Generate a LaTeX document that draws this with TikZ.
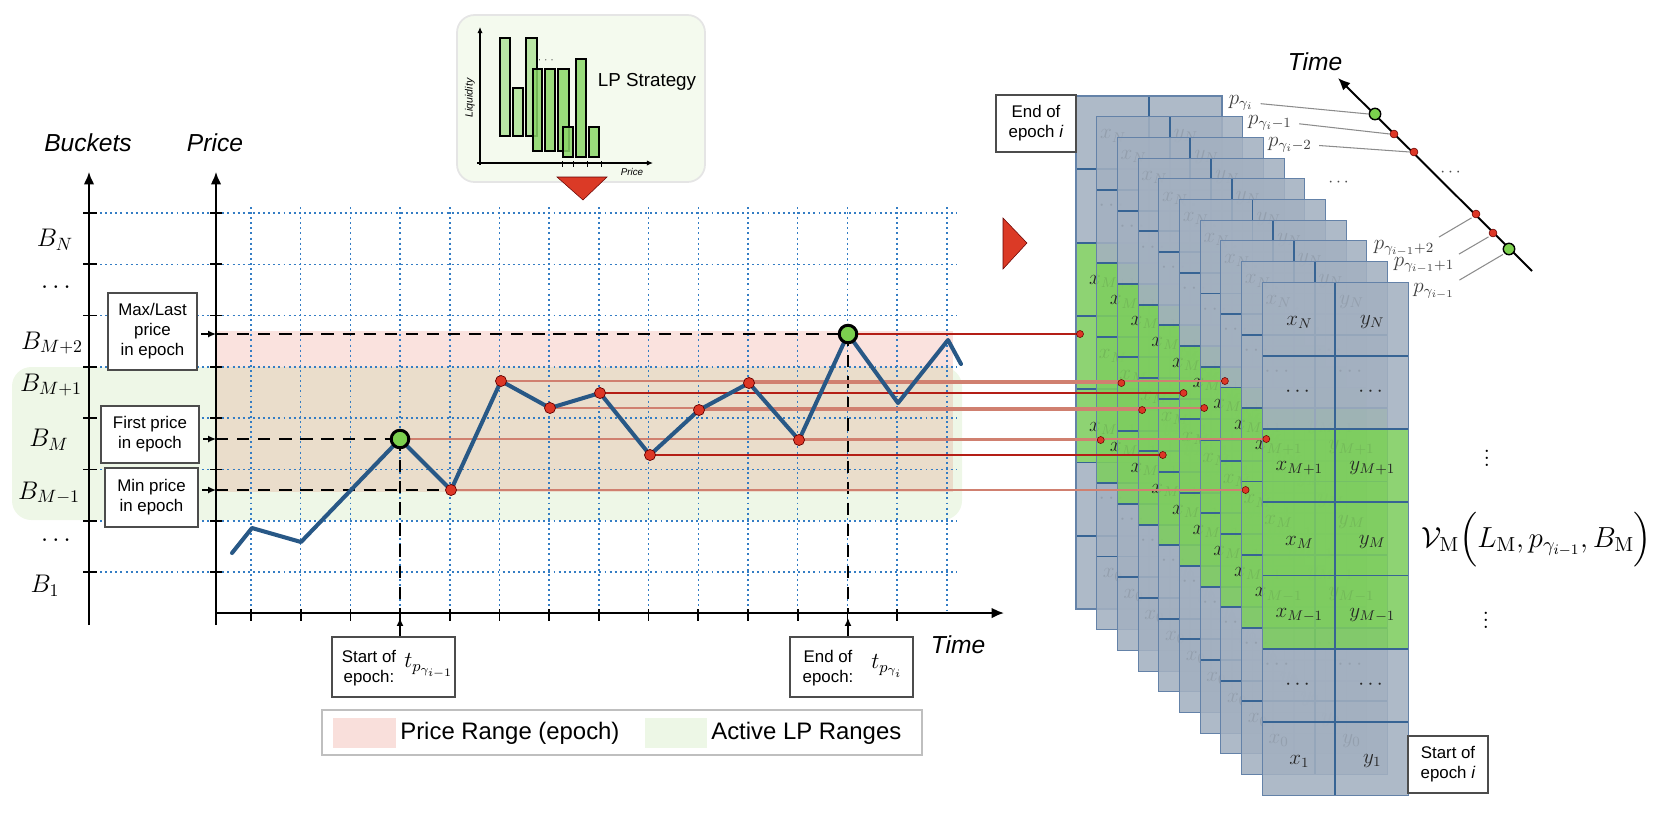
\RequirePackage{fix-cm}
\documentclass[tikz,border=0pt]{standalone}
\usepackage{amsmath}
\usepackage[no-math]{fontspec}
\newfontfamily\arial{Liberation Sans}
\usetikzlibrary{arrows.meta}

\definecolor{gridblue}{RGB}{52,125,196}
\definecolor{curveblue}{RGB}{40,88,134}
\definecolor{pinkband}{RGB}{250,226,222}
\definecolor{tanband}{RGB}{234,221,203}
\definecolor{greenband}{RGB}{238,247,231}
\definecolor{dotred}{RGB}{221,55,38}
\definecolor{dotgreen}{RGB}{124,208,78}
\definecolor{linered}{RGB}{180,30,22}
\definecolor{linepink}{RGB}{208,128,112}
\definecolor{cardgray}{RGB}{163,176,192}
\definecolor{cardgreen}{RGB}{126,205,96}
\definecolor{cardrowc}{RGB}{55,100,148}
\definecolor{cardedgec}{RGB}{100,130,168}
\definecolor{lpboxc}{RGB}{244,250,238}
\definecolor{barfill}{RGB}{138,214,104}
\definecolor{trired}{RGB}{219,58,38}
\definecolor{swpink}{RGB}{249,223,219}
\definecolor{swgreen}{RGB}{237,247,230}

\newcommand\pxu{0.569pt}

\tikzset{
  gridline/.style={draw=gridblue, line width=0.85pt, dash pattern=on 1.1pt off 1.8pt},
  axisline/.style={draw=black, line width=1.1pt},
  axisarrow/.style={axisline, -{Latex[length=7pt,width=6pt]}},
  tickline/.style={draw=black, line width=1pt},
  epochdash/.style={draw=black, line width=1.1pt, dash pattern=on 7pt off 5pt},
  pricecurve/.style={draw=curveblue, line width=2.3pt, line join=round, line cap=round},
  reddot/.style={circle, fill=dotred, draw=red!40!black, line width=0.4pt, inner sep=0pt, minimum size=6.3pt},
  greendot/.style={circle, fill=dotgreen, draw=black, line width=1.7pt, inner sep=0pt, minimum size=10pt},
  smallgreendot/.style={circle, fill=dotgreen, draw=black, line width=0.8pt, inner sep=0pt, minimum size=6.5pt},
  smallreddot/.style={circle, fill=dotred, draw=red!40!black, line width=0.3pt, inner sep=0pt, minimum size=4.5pt},
  carddot/.style={circle, fill=dotred, draw=red!40!black, line width=0.3pt, inner sep=0pt, minimum size=4pt},
  darkline/.style={draw=linered, line width=0.8pt},
  lightline/.style={draw=linepink, line width=0.9pt},
  infobox/.style={draw=black!70, line width=0.6pt, fill=white, inner sep=0pt},
  boxtext/.style={font=\arial\fontsize{9.6}{11.4}\selectfont, align=center, inner sep=0pt},
  axislabel/.style={font=\arial\itshape\fontsize{14}{16}\selectfont, inner sep=0pt},
  bucketlabel/.style={font=\fontsize{14.5}{16}\selectfont, inner sep=0pt},
  celltext/.style={font=\fontsize{12}{14}\selectfont, text=black!85, inner sep=0pt},
  cardrow/.style={draw=cardrowc, line width=1.1pt},
  cardedge/.style={draw=cardedgec, line width=0.6pt},
  labline/.style={draw=black!45, line width=0.6pt},
  plabel/.style={font=\fontsize{12}{14}\selectfont, text=black!75, inner sep=0pt},
  barbox/.style={draw=black, line width=1pt, fill=barfill},
  boxarrow/.style={draw=black, line width=0.8pt, -{Latex[length=4.5pt,width=4pt]}},
  legtext/.style={font=\arial\fontsize{13.6}{15}\selectfont, inner sep=0pt},
}

\begin{document}
\begin{tikzpicture}[x=0.02cm,y=-0.02cm]
\useasboundingbox (0,0) rectangle (1661,823);

% ---------- bands ----------
\fill[greenband, rounded corners=11pt] (12,367) rectangle (962,520);
\fill[pinkband] (216,331) rectangle (953,367);
\fill[tanband] (216,367) rectangle (953,492);

% ---------- grid ----------
\foreach \i in {0,...,7} \draw[gridline] (95,{213+51.3*\i}) -- (957,{213+51.3*\i});
\foreach \j in {0,...,14} \draw[gridline] ({251+49.7*\j},207) -- ({251+49.7*\j},613);

% ---------- axes ----------
\coordinate (bbot) at (89,625); \coordinate (btop) at (89,172);
\coordinate (pbot) at (216,625); \coordinate (ptop) at (216,172);
\coordinate (tleft) at (216,613); \coordinate (tright) at (1004,613);
\draw[axisarrow] (bbot) -- (btop);
\draw[axisarrow] (pbot) -- (ptop);
\draw[axisarrow] (tleft) -- (tright);
\foreach \i in {0,...,7} {
  \draw[tickline] (83,{213+51.3*\i}) -- (97,{213+51.3*\i});
  \draw[tickline] (210,{213+51.3*\i}) -- (222,{213+51.3*\i});
}
\foreach \j in {0,...,13} \draw[tickline] ({251+49.7*\j},609) -- ({251+49.7*\j},621);

\node[axislabel] (lbuckets) at (88,143) {Buckets};
\node[axislabel] (lprice) at (215,143) {Price};
\node[axislabel] (ltime) at (958,645) {Time};

\node[bucketlabel] (bN) at (55,240) {$B_N$};
\node[bucketlabel] (bd1) at (58,288) {$\cdots$};
\node[bucketlabel] (bM2) at (52,343) {$B_{M+2}$};
\node[bucketlabel] (bM1) at (51,385) {$B_{M+1}$};
\node[bucketlabel] (bM) at (49,440) {$B_M$};
\node[bucketlabel] (bMm) at (49,493) {$B_{M-1}$};
\node[bucketlabel] (bd2) at (58,541) {$\cdots$};
\node[bucketlabel] (b1) at (45,586) {$B_1$};

% ---------- info boxes ----------
\node[infobox, minimum width={89*\pxu}, minimum height={77*\pxu}] (maxbox) at (152.5,331.5) {};
\node[boxtext] (maxtxt) at (maxbox.center) {Max/Last\\price\\in epoch};
\node[infobox, minimum width={98*\pxu}, minimum height={57*\pxu}] (firstbox) at (150,434.5) {};
\node[boxtext] (firsttxt) at (firstbox.center) {First price\\in epoch};
\node[infobox, minimum width={93*\pxu}, minimum height={59*\pxu}] (minbox) at (151.5,497.5) {};
\node[boxtext] (mintxt) at (minbox.center) {Min price\\in epoch};

\coordinate (pmax) at (216,334);
\coordinate (pfirst) at (216,439);
\coordinate (pmin) at (216,490);
\draw[boxarrow, shorten <=2pt] (maxbox.east |- pmax) -- (pmax);
\draw[boxarrow, shorten <=2pt] (firstbox.east |- pfirst) -- (pfirst);
\draw[boxarrow, shorten <=2pt] (minbox.east |- pmin) -- (pmin);

% ---------- price points ----------
\coordinate (q0) at (400,439);
\coordinate (q1) at (451,490);
\coordinate (q2) at (501,381);
\coordinate (q3) at (550,408);
\coordinate (q4) at (600,393);
\coordinate (q5) at (650,455);
\coordinate (q6) at (699,410);
\coordinate (q7) at (749,383);
\coordinate (q8) at (799,440);
\coordinate (q9) at (848,334);
\coordinate (c1) at (232,553);
\coordinate (c2) at (252,528);
\coordinate (c3) at (301,542);
\coordinate (e1) at (898,403);
\coordinate (e2) at (948,340);
\coordinate (e3) at (961,364);
\coordinate (ta) at (400,613);
\coordinate (tb) at (848,613);

\draw[epochdash] (pmax) -- (q9);
\draw[epochdash] (pfirst) -- (q0);
\draw[epochdash] (pmin) -- (q1);
\draw[epochdash] (q0) -- (ta);
\draw[epochdash] (q9) -- (tb);

% ---------- card stack ----------
\foreach \k in {0,...,9}{
  \begin{scope}[shift={({1076+20.7*\k},{96+20.7*\k})}]
    \fill[cardgray, fill opacity=0.88] (0,0) rectangle (146,146.6);
    \fill[cardgreen, fill opacity=0.88] (0,146.6) rectangle (146,366.5);
    \fill[cardgray, fill opacity=0.88] (0,366.5) rectangle (146,513);
    \foreach \r in {1,...,6} \draw[cardrow] (0,{73.3*\r}) -- (146,{73.3*\r});
    \draw[cardrow] (73,0) -- (73,513);
    \draw[cardedge] (0,0) rectangle (146,513);
    \node[celltext] (x\k N) at (37,40) {$x_N$};
    \node[celltext] (y\k N) at (110,40) {$y_N$};
    \node[celltext] (x\k d) at (37,110) {$\cdots$};
    \node[celltext] (y\k d) at (110,110) {$\cdots$};
    \node[celltext] (x\k a) at (37,186) {$x_{M+1}$};
    \node[celltext] (y\k a) at (110,186) {$y_{M+1}$};
    \node[celltext] (x\k b) at (37,260) {$x_{M}$};
    \node[celltext] (y\k b) at (110,260) {$y_{M}$};
    \node[celltext] (x\k c) at (37,333) {$x_{M-1}$};
    \node[celltext] (y\k c) at (110,333) {$y_{M-1}$};
    \node[celltext] (x\k e) at (37,403) {$\cdots$};
    \node[celltext] (y\k e) at (110,403) {$\cdots$};
    \ifnum\k=9
      \node[celltext] (x\k f) at (37,479) {$x_1$};
      \node[celltext] (y\k f) at (110,479) {$y_1$};
    \else
      \node[celltext] (x\k f) at (37,479) {$x_0$};
      \node[celltext] (y\k f) at (110,479) {$y_0$};
    \fi
  \end{scope}
}

% card dot positions
\coordinate (k0) at (1266.3,439);
\coordinate (k1) at (1245.6,490);
\coordinate (k2) at (1224.9,381);
\coordinate (k3) at (1204.2,408);
\coordinate (k4) at (1183.5,393);
\coordinate (k5) at (1162.8,455);
\coordinate (k6) at (1142.1,410);
\coordinate (k7) at (1121.4,383);
\coordinate (k8) at (1100.7,440);
\coordinate (k9) at (1080,334);

\draw[lightline] (q0) -- (k0);
\draw[lightline] (q1) -- (k1);
\draw[lightline] (q2) -- (k2);
\draw[lightline] (q3) -- (k3);
\draw[darkline] (q4) -- (k4);
\draw[darkline] (q5) -- (k5);
\draw[lightline] (q6) -- (k6);
\draw[lightline] (q7) -- (k7);
\draw[lightline] (q8) -- (k8);
\draw[darkline] (q9) -- (k9);
\foreach \n in {0,...,9} \node[carddot] (kd\n) at (k\n) {};

% ---------- price curve ----------
\draw[pricecurve] (c1) -- (c2) -- (c3) -- (q0) -- (q1) -- (q2) -- (q3) -- (q4) -- (q5) -- (q6) -- (q7) -- (q8) -- (q9) -- (e1) -- (e2) -- (e3);
\node[greendot] (g1) at (q0) {};
\node[greendot] (g2) at (q9) {};
\foreach \n in {1,...,8} \node[reddot] (r\n) at (q\n) {};

% ---------- epoch boxes on time axis ----------
\node[infobox, minimum width={123*\pxu}, minimum height={60*\pxu}] (startbox) at (393.5,667) {};
\node[boxtext] (starttxt) at (369,668) {Start of\\epoch:};
\node[font=\fontsize{13}{15}\selectfont, inner sep=0pt] (startmath) at (429,666) {$t_{p_{\gamma_{i-1}}}$};
\node[infobox, minimum width={123*\pxu}, minimum height={60*\pxu}] (endbox) at (851.5,667) {};
\node[boxtext] (endtxt) at (828,668) {End of\\epoch:};
\node[font=\fontsize{13}{15}\selectfont, inner sep=0pt] (endmath) at (887,666) {$t_{p_{\gamma_{i}}}$};
\coordinate (sa) at (400,618);
\coordinate (sb) at (848,618);
\draw[boxarrow] (startbox.north -| sa) -- (sa);
\draw[boxarrow] (endbox.north -| sb) -- (sb);

% ---------- legend ----------
\node[draw=black!25, line width=0.9pt, fill=white, minimum width={600*\pxu}, minimum height={45*\pxu}, inner sep=0pt] (legend) at (622,732.5) {};
\fill[swpink] (333,718) rectangle (396,748);
\node[legtext, anchor=west] (leg1) at (400,733) {Price Range (epoch)};
\fill[swgreen] (645,718) rectangle (707,748);
\node[legtext, anchor=west] (leg2) at (711,733) {Active LP Ranges};

% ---------- LP strategy box ----------
\draw[draw=black!10, line width=1pt, fill=lpboxc, rounded corners=10pt] (457,15) rectangle (705,182);
\coordinate (lpo) at (480,165);
\coordinate (lpy) at (480,27);
\coordinate (lpx) at (653,163);
\draw[line width=0.6pt, -{Latex[length=3.5pt,width=3pt]}] (lpo) -- (lpy);
\draw[line width=0.6pt, -{Latex[length=3.5pt,width=3pt]}] (477,163) -- (lpx);
\foreach \t in {562,573,587,601} \draw[line width=0.5pt] (\t,161) -- (\t,167);
\draw[barbox, fill opacity=0.55] (500,38) rectangle (510,136);
\draw[barbox, fill opacity=0.55] (513,88) rectangle (523,136);
\draw[barbox, fill opacity=0.55] (526,38) rectangle (537,136);
\draw[barbox, fill opacity=0.85] (533,69) rectangle (542,151);
\draw[barbox, fill opacity=0.85] (545,69) rectangle (555,151);
\draw[barbox, fill opacity=0.85] (558,69) rectangle (569,151);
\draw[barbox, fill opacity=0.85] (563,127) rectangle (573,157);
\draw[barbox, fill opacity=0.85] (576,59) rectangle (586,157);
\draw[barbox, fill opacity=0.85] (589,127) rectangle (599,157);
\node[font=\fontsize{5}{6}\selectfont, inner sep=0pt] (lpdots) at (547,60) {$\cdots$};
\node[rotate=90, font=\arial\itshape\fontsize{6}{7}\selectfont, inner sep=0pt] (lpliq) at (470,98) {Liquidity};
\node[font=\arial\itshape\fontsize{5.6}{7}\selectfont, inner sep=0pt] (lpprice) at (632,172) {Price};
\node[font=\arial\fontsize{10.7}{12}\selectfont, inner sep=0pt] (lptitle) at (647,82) {LP Strategy};

% ---------- red triangles ----------
\fill[trired, draw=red!40!black, line width=0.3pt] (557,177) -- (607,177) -- (583,200) -- cycle;
\fill[trired, draw=red!40!black, line width=0.3pt] (1003,218) -- (1027,243) -- (1003,269) -- cycle;

% ---------- epoch i boxes at stack ----------
\node[infobox, minimum width={80*\pxu}, minimum height={57*\pxu}] (endibox) at (1036,123.5) {};
\node[boxtext] (enditxt) at (endibox.center) {End of\\epoch \textit{i}};
\node[infobox, minimum width={80*\pxu}, minimum height={57*\pxu}] (startibox) at (1448,764.5) {};
\node[boxtext] (startitxt) at (startibox.center) {Start of\\epoch \textit{i}};

% ---------- formula ----------
\node[font=\fontsize{16}{19}\selectfont, inner sep=0pt] (vdA) at (1487,453) {$\vdots$};
\node[font=\fontsize{16.5}{19}\selectfont, inner sep=0pt] (formula) at (1537,540) {$\mathcal{V}_{\mathrm{M}}\Bigl(L_{\mathrm{M}},p_{\gamma_{i-1}},B_{\mathrm{M}}\Bigr)$};
\node[font=\fontsize{16}{19}\selectfont, inner sep=0pt] (vdB) at (1486,615) {$\vdots$};

% ---------- top right time line ----------
\coordinate (tls) at (1532,271);
\coordinate (tle) at (1338,78);
\draw[axisarrow] (tls) -- (tle);
\node[axislabel] (ltime2) at (1315,62) {Time};
\node[smallgreendot] (tg1) at (1375,114) {};
\node[smallreddot] (tr1) at (1394,134) {};
\node[smallreddot] (tr2) at (1414,152) {};
\node[smallreddot] (tr3) at (1476,214) {};
\node[smallreddot] (tr4) at (1493,233) {};
\node[smallgreendot] (tg2) at (1509,249) {};
\node[font=\fontsize{10}{12}\selectfont, text=black!70, inner sep=0pt] (tldots) at (1452,173) {$\cdots$};
\node[font=\fontsize{10}{12}\selectfont, text=black!70, inner sep=0pt] (stdots) at (1340,183) {$\cdots$};

\node[plabel] (lp1) at (1241,103) {$p_{\gamma_i}$};
\node[plabel] (lp2) at (1270,123) {$p_{\gamma_i-1}$};
\node[plabel] (lp3) at (1290,145) {$p_{\gamma_i-2}$};
\node[plabel] (lp4) at (1404,248) {$p_{\gamma_{i-1}+2}$};
\node[plabel] (lp5) at (1424,265) {$p_{\gamma_{i-1}+1}$};
\node[plabel] (lp6) at (1434,291) {$p_{\gamma_{i-1}}$};
\draw[labline, shorten <=4pt] (lp1.east) -- (tg1.west);
\draw[labline, shorten <=4pt] (lp2.east) -- (tr1.west);
\draw[labline, shorten <=4pt] (lp3.east) -- (tr2.west);
\draw[labline, shorten <=3pt, shorten >=1pt] (lp4.north east) -- (tr3.south west);
\draw[labline, shorten <=3pt, shorten >=1pt] (lp5.north east) -- (tr4.south west);
\draw[labline, shorten <=3pt, shorten >=1pt] (lp6.north east) -- (tg2.south west);

\end{tikzpicture}
\end{document}
